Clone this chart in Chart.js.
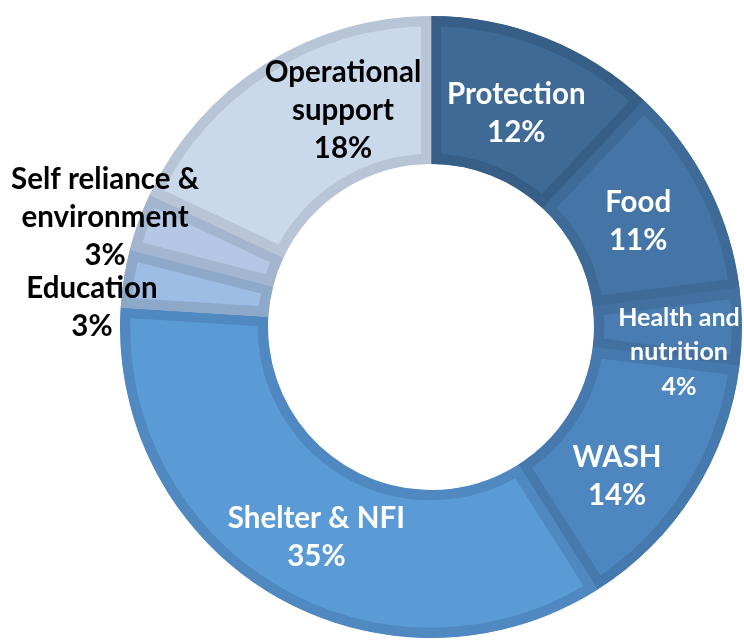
<!DOCTYPE html>
<html>
<head>
<meta charset="utf-8">
<script src="https://cdn.jsdelivr.net/npm/chart.js@4.4.1/dist/chart.umd.min.js"></script>
<style>
html, body { margin: 0; padding: 0; background: #ffffff; }
#wrap { width: 744px; height: 641px; position: relative; }
</style>
</head>
<body>
<div id="wrap"><canvas id="myChart"></canvas></div>
<script>
// data
const categories = [
  ['Protection'],
  ['Food'],
  ['Health and', 'nutrition'],
  ['WASH'],
  ['Shelter & NFI'],
  ['Education'],
  ['Self reliance &', 'environment'],
  ['Operational', 'support']
];
const shares = [12, 11, 4, 14, 35, 3, 3, 18];

// styles
const fillColors = ['#3e6a95', '#4475a6', '#497db1', '#4e86bf', '#5b9bd5', '#9ebde4', '#b4c8e6', '#cad8ec'];
const edgeColors = ['#365e86', '#3d6a96', '#4271a1', '#4679ae', '#5088c1', '#8ea8c9', '#a3b5cf', '#b8c5d7'];
const textColors = ['#ffffff', '#ffffff', '#ffffff', '#ffffff', '#ffffff', '#000000', '#000000', '#000000'];
const fontSizes = [29.5, 29.5, 25, 29.5, 29.5, 29.5, 29.5, 29.5];
const lineHeights = [38, 38, 34.5, 38, 38, 38, 38, 38];
// shift of each label from the middle of its slice
const labelShift = [[-2, 7], [-4, 2], [11, 25], [-14, 23], [6, 7], [-105, 18], [-103, -29], [39, -16]];

const sliceLabels = {
  id: 'sliceLabels',
  afterDatasetsDraw(chart) {
    const ctx = chart.ctx;
    const meta = chart.getDatasetMeta(0);
    meta.data.forEach(function(arc, i) {
      const p = arc.tooltipPosition();
      const lines = categories[i].concat([shares[i] + '%']);
      const lh = lineHeights[i];
      const x = p.x + labelShift[i][0];
      const y0 = p.y + labelShift[i][1] - (lines.length - 1) * lh / 2;
      ctx.save();
      ctx.font = 'bold ' + fontSizes[i] + 'px Lato, "Open Sans", sans-serif';
      ctx.fillStyle = textColors[i];
      ctx.textAlign = 'center';
      ctx.textBaseline = 'middle';
      lines.forEach(function(t, k) {
        ctx.fillText(t, x, y0 + k * lh);
      });
      ctx.restore();
    });
  }
};

new Chart(document.getElementById('myChart'), {
  type: 'doughnut',
  data: {
    labels: categories.map(c => c.join(' ')),
    datasets: [{
      data: shares,
      backgroundColor: fillColors,
      borderColor: edgeColors,
      borderWidth: 10,
      borderAlign: 'inner',
      borderJoinStyle: 'miter',
      hoverOffset: 0
    }]
  },
  options: {
    responsive: true,
    maintainAspectRatio: false,
    animation: false,
    cutout: '52.4%',
    layout: {
      padding: { left: 120, top: 16, right: 2, bottom: 3 }
    },
    plugins: {
      legend: { display: false },
      tooltip: { enabled: false }
    }
  },
  plugins: [sliceLabels]
});
</script>
</body>
</html>
